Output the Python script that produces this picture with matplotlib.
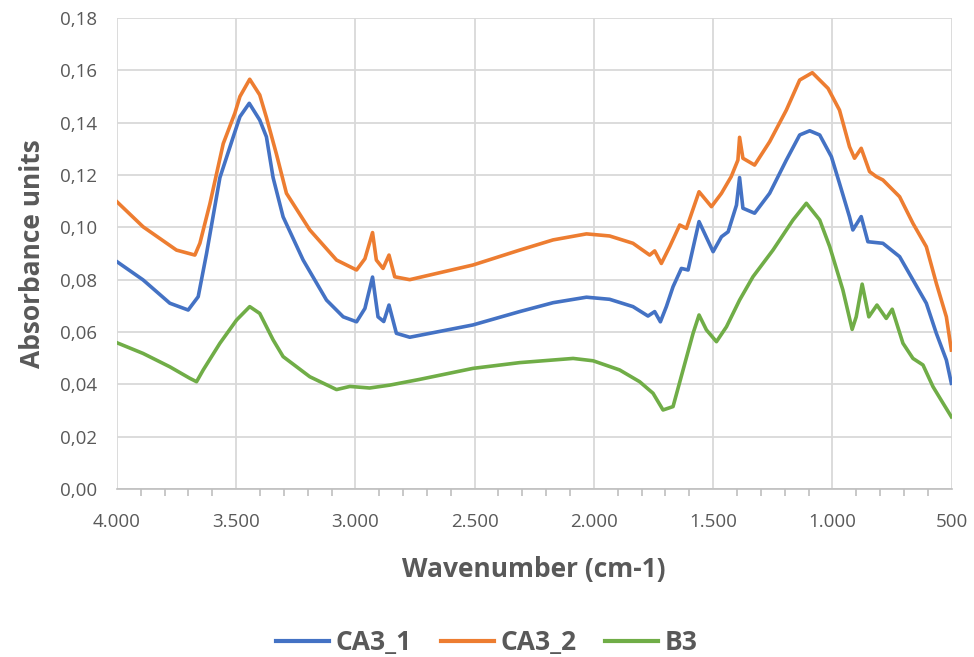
import matplotlib
matplotlib.use("Agg")
from matplotlib import pyplot as plt
from matplotlib.ticker import FuncFormatter, MultipleLocator

# values (wavenumber, absorbance)
ca3_1_wn = [4000, 3890, 3778, 3701, 3659, 3624, 3568, 3512, 3484, 3445, 3401, 3373,
            3345, 3303, 3219, 3121, 3051, 2995, 2960, 2928, 2905, 2881, 2859, 2828,
            2772, 2507, 2311, 2171, 2031, 1934, 1836, 1773, 1745, 1721, 1696, 1668,
            1633, 1605, 1559, 1500, 1465, 1437, 1402, 1389, 1375, 1326, 1263, 1193,
            1137, 1095, 1053, 1004, 970, 928, 914, 879, 851, 788, 718, 662, 606, 564,
            522, 501]
ca3_1_abs = [0.0869, 0.0799, 0.0710, 0.0684, 0.0735, 0.0900, 0.1190, 0.1346, 0.1423,
             0.1474, 0.1410, 0.1346, 0.1190, 0.1040, 0.0875, 0.0722, 0.0658, 0.0639,
             0.0690, 0.0810, 0.0658, 0.0640, 0.0703, 0.0595, 0.0580, 0.0627, 0.0678,
             0.0712, 0.0733, 0.0725, 0.0697, 0.0661, 0.0678, 0.0639, 0.0697, 0.0773,
             0.0843, 0.0837, 0.1022, 0.0907, 0.0964, 0.0983, 0.1085, 0.1190, 0.1073,
             0.1054, 0.1130, 0.1257, 0.1353, 0.1369, 0.1353, 0.1270, 0.1168, 0.1040,
             0.0990, 0.1041, 0.0945, 0.0939, 0.0888, 0.0799, 0.0710, 0.0595, 0.0493,
             0.0404]

ca3_2_wn = [4000, 3890, 3750, 3673, 3652, 3610, 3554, 3505, 3484, 3443, 3401, 3373,
            3331, 3289, 3191, 3079, 2995, 2960, 2928, 2912, 2884, 2859, 2835, 2772,
            2507, 2311, 2171, 2031, 1934, 1836, 1766, 1745, 1717, 1682, 1640, 1612,
            1559, 1507, 1465, 1424, 1396, 1389, 1375, 1326, 1263, 1193, 1137, 1084,
            1018, 970, 928, 907, 879, 844, 816, 788, 718, 662, 606, 564, 522, 501]
ca3_2_abs = [0.1098, 0.1002, 0.0913, 0.0894, 0.0939, 0.1090, 0.1320, 0.1437, 0.1500,
             0.1566, 0.1506, 0.1420, 0.1280, 0.1130, 0.0990, 0.0875, 0.0837, 0.0880,
             0.0980, 0.0875, 0.0843, 0.0894, 0.0811, 0.0800, 0.0856, 0.0913, 0.0952,
             0.0975, 0.0967, 0.0939, 0.0894, 0.0910, 0.0862, 0.0926, 0.1009, 0.0996,
             0.1136, 0.1079, 0.1130, 0.1194, 0.1257, 0.1344, 0.1264, 0.1238, 0.1327,
             0.1448, 0.1563, 0.1591, 0.1531, 0.1448, 0.1308, 0.1264, 0.1302, 0.1213,
             0.1194, 0.1181, 0.1117, 0.1015, 0.0926, 0.0786, 0.0658, 0.0531]

b3_wn = [4000, 3890, 3778, 3694, 3666, 3638, 3568, 3498, 3443, 3401, 3345, 3303,
         3191, 3079, 3023, 2940, 2856, 2730, 2507, 2311, 2087, 2003, 1892, 1808,
         1752, 1710, 1668, 1626, 1584, 1559, 1528, 1486, 1444, 1389, 1333, 1249,
         1165, 1109, 1053, 1011, 956, 917, 900, 875, 847, 813, 774, 749, 704, 662,
         620, 578, 536, 501]
b3_abs = [0.0559, 0.0518, 0.0467, 0.0423, 0.0410, 0.0455, 0.0557, 0.0646, 0.0697,
          0.0671, 0.0570, 0.0506, 0.0429, 0.0380, 0.0392, 0.0386, 0.0397, 0.0419,
          0.0461, 0.0483, 0.0499, 0.0490, 0.0455, 0.0410, 0.0366, 0.0302, 0.0315,
          0.0455, 0.0595, 0.0665, 0.0608, 0.0563, 0.0620, 0.0722, 0.0811, 0.0913,
          0.1028, 0.1092, 0.1028, 0.0926, 0.0761, 0.0610, 0.0658, 0.0783, 0.0658,
          0.0703, 0.0652, 0.0687, 0.0557, 0.0499, 0.0474, 0.0391, 0.0328, 0.0276]

series = [("CA3_1", ca3_1_wn, ca3_1_abs, "#4472C4"),
          ("CA3_2", ca3_2_wn, ca3_2_abs, "#ED7D31"),
          ("B3", b3_wn, b3_abs, "#70AD47")]

plt.rcParams['font.family'] = ['Open Sans', 'DejaVu Sans']
txt = "#595959"

fig = plt.figure(figsize=(9.74, 6.57), dpi=100)
ax = fig.add_axes([0.120, 0.2557, 0.857, 0.7169])

for name, wn, ab, col in series:
    ax.plot(wn, ab, color=col, lw=2.6, label=name, solid_joinstyle="round")

ax.set_xlim(4000, 500)
ax.set_ylim(0, 0.18)
ax.xaxis.set_major_locator(MultipleLocator(500))
ax.xaxis.set_minor_locator(MultipleLocator(100))
ax.yaxis.set_major_locator(MultipleLocator(0.02))
ax.xaxis.set_major_formatter(FuncFormatter(lambda v, p: f"{int(v):,}".replace(",", ".")))
ax.yaxis.set_major_formatter(FuncFormatter(lambda v, p: f"{v:.2f}".replace(".", ",")))

ax.grid(True, which="major", color="#d9d9d9", lw=1.3)
ax.set_axisbelow(True)
for s in ["top", "right", "left"]:
    ax.spines[s].set_visible(False)
ax.spines["bottom"].set_color("#bfbfbf")
ax.spines["bottom"].set_linewidth(1.2)
ax.tick_params(axis="y", length=0, labelsize=13.5, labelcolor=txt, pad=14)
ax.tick_params(axis="x", which="major", length=0, labelsize=13.5, labelcolor=txt, pad=17)
ax.tick_params(axis="x", which="minor", length=5, color="#bfbfbf", width=1.2)

ax.set_xlabel("Wavenumber (cm-1)", fontsize=19, fontweight="bold", color=txt, labelpad=18)
ax.set_ylabel("Absorbance units", fontsize=19, fontweight="bold", color=txt, labelpad=10)

fig.legend(loc="lower center", bbox_to_anchor=(0.5, -0.035), ncol=3, frameon=False,
           prop={"size": 19, "weight": "bold"}, labelcolor=txt, handlelength=2.0,
           columnspacing=1.1, handletextpad=0.25)
for ln in fig.legends[0].get_lines():
    ln.set_linewidth(3)

fig.savefig("out.png", dpi=100)
